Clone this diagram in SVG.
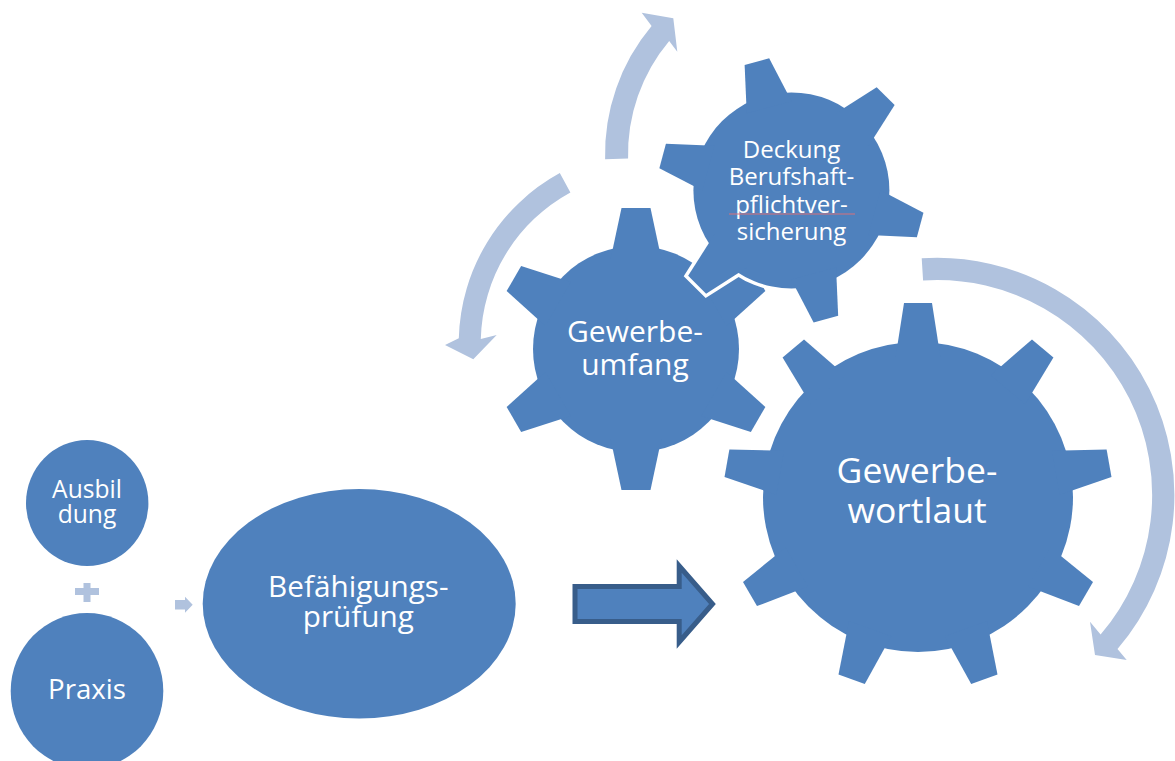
<svg xmlns="http://www.w3.org/2000/svg" width="1175" height="761" viewBox="0 0 1175 761">
<defs>
<style>
.node{fill:#4F81BD}
.light{fill:#B0C2DE}
.outline{fill:#FFFFFF;stroke:#FFFFFF;stroke-width:7;stroke-linejoin:miter}
.t{fill:#FFFFFF;font-family:"Open Sans","Noto Sans","DejaVu Sans",sans-serif;text-anchor:middle}
</style>
<polygon id="toothBig" points="-14,-194 14,-194 22.4,-140 -22.4,-140"/>
<polygon id="toothMed" points="-14.5,-141 14.5,-141 25.4,-90 -25.4,-90"/>
<polygon id="toothSm" points="-12.7,-133.3 12.7,-133.3 23.2,-86 -23.2,-86"/>
</defs>
<rect x="0" y="0" width="1175" height="761" fill="#FFFFFF"/>

<g id="connectors">
  <path class="light" d="M605.1,159.2 A199,199 0 0 1 651.6,26.1 L641.7,12.7 L673.3,18.3 L677.3,51.7 L669.2,40.9 A176,176 0 0 0 628.1,158.6 Z"/>
  <path class="light" d="M559.8,173.1 A194,194 0 0 0 458.8,338.3 L445,345 L473.3,359.3 L496.7,335 L480.8,338.9 A172,172 0 0 1 570.4,192.4 Z"/>
  <path class="light" d="M921.7,258.3 A237.2,237.2 0 0 1 1117.5,649.1 L1126.7,660 L1095,655 L1090,621.7 L1100.6,634.6 A215,215 0 0 0 923.1,280.4 Z"/>
  <path class="light" d="M83.5,583 H90.5 V588 H99 V595 H90.5 V602 H83.5 V595 H75 V588 H83.5 Z"/>
  <path class="light" d="M175,600 H185 V596.7 L192.7,604.7 L185,612.7 V609.5 H175 Z"/>
  <path d="M575,586.5 H679.2 V566 L712.5,604 L679.2,642 V621.5 H575 Z" fill="#4F81BD" stroke="#385D8A" stroke-width="5" stroke-linejoin="miter"/>
</g>

<g id="node-ausbildung">
  <ellipse class="node" cx="87.2" cy="503" rx="61.2" ry="63"/>
  <text class="t" font-size="24.6"><tspan x="87" y="498.3">Ausbil</tspan><tspan x="87" y="523.3">dung</tspan></text>
</g>

<g id="node-praxis">
  <ellipse class="node" cx="87" cy="691" rx="76.3" ry="78"/>
  <text class="t" font-size="27.6" x="87" y="699.3">Praxis</text>
</g>

<g id="node-befaehigung">
  <ellipse class="node" cx="359.2" cy="603.7" rx="156.5" ry="114.7"/>
  <text class="t" font-size="29.7"><tspan x="358.3" y="596.7">Befähigungs-</tspan><tspan x="358.3" y="626.7">prüfung</tspan></text>
</g>

<g id="node-gewerbeumfang">
  <g class="node" transform="translate(636,349)">
    <circle r="103"/>
    <use href="#toothMed" transform="rotate(0)"/>
    <use href="#toothMed" transform="rotate(60)"/>
    <use href="#toothMed" transform="rotate(120)"/>
    <use href="#toothMed" transform="rotate(180)"/>
    <use href="#toothMed" transform="rotate(240)"/>
    <use href="#toothMed" transform="rotate(300)"/>
  </g>
  <text class="t" font-size="30"><tspan x="635" y="341.7">Gewerbe-</tspan><tspan x="635" y="375">umfang</tspan></text>
</g>

<g id="node-gewerbewortlaut">
  <g class="node" transform="translate(918,497)">
    <circle r="155"/>
    <use href="#toothBig" transform="rotate(0)"/>
    <use href="#toothBig" transform="rotate(40)"/>
    <use href="#toothBig" transform="rotate(80)"/>
    <use href="#toothBig" transform="rotate(120)"/>
    <use href="#toothBig" transform="rotate(160)"/>
    <use href="#toothBig" transform="rotate(200)"/>
    <use href="#toothBig" transform="rotate(240)"/>
    <use href="#toothBig" transform="rotate(280)"/>
    <use href="#toothBig" transform="rotate(320)"/>
  </g>
  <text class="t" font-size="35.5"><tspan x="917" y="483.3">Gewerbe-</tspan><tspan x="917" y="523.3">wortlaut</tspan></text>
</g>

<g id="node-deckung">
  <g class="outline" transform="translate(791.4,190.4)">
    <circle r="98"/>
    <use href="#toothSm" transform="rotate(-15)"/>
    <use href="#toothSm" transform="rotate(45)"/>
    <use href="#toothSm" transform="rotate(105)"/>
    <use href="#toothSm" transform="rotate(165)"/>
    <use href="#toothSm" transform="rotate(225)"/>
    <use href="#toothSm" transform="rotate(285)"/>
  </g>
  <g class="node" transform="translate(791.4,190.4)">
    <circle r="98"/>
    <use href="#toothSm" transform="rotate(-15)"/>
    <use href="#toothSm" transform="rotate(45)"/>
    <use href="#toothSm" transform="rotate(105)"/>
    <use href="#toothSm" transform="rotate(165)"/>
    <use href="#toothSm" transform="rotate(225)"/>
    <use href="#toothSm" transform="rotate(285)"/>
  </g>
  <text class="t" font-size="24"><tspan x="791.5" y="157.5">Deckung</tspan><tspan x="791.5" y="185">Berufshaft-</tspan><tspan x="791.5" y="212.5">pflichtver-</tspan><tspan x="791.5" y="240">sicherung</tspan></text>
  <line x1="729" y1="214" x2="855" y2="214" stroke="#D9717A" stroke-width="1"/>
</g>
</svg>
